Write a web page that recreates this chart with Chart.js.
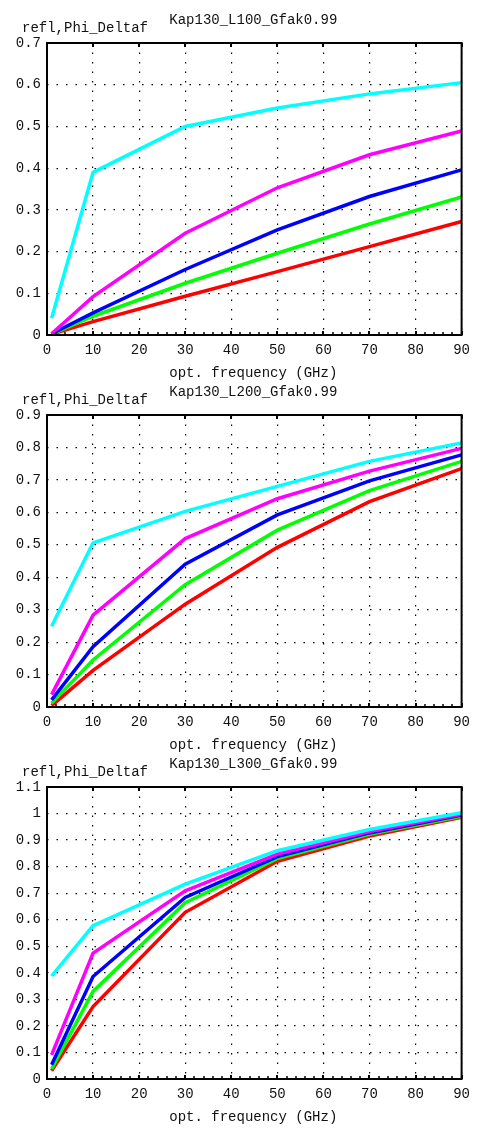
<!DOCTYPE html>
<html><head><meta charset="utf-8">
<script src="https://cdn.jsdelivr.net/npm/chart.js@4"></script>
<style>
html,body{margin:0;padding:0;background:#fff;width:477px;height:1129px;overflow:hidden;}
.p{position:absolute;left:0;}
canvas{display:block;}
</style></head><body>
<div class="p" style="top:0px"><canvas id="c1" width="477" height="380"></canvas></div>
<div class="p" style="top:372px"><canvas id="c2" width="477" height="380"></canvas></div>
<div class="p" style="top:744px"><canvas id="c3" width="477" height="385"></canvas></div>
<script>
// ---- data ----
const freq = [1, 10, 30, 50, 70, 90];
const xTicks = [0, 10, 20, 30, 40, 50, 60, 70, 80, 90];
const xMinorTicks = [2,4,6,8,12,14,16,18,22,24,26,28,32,34,36,38,42,44,46,48,52,54,56,58,62,64,66,68,72,74,76,78,82,84,86,88];
const yTicks1 = [0, 0.1, 0.2, 0.3, 0.4, 0.5, 0.6, 0.7];
const yTicks2 = [0, 0.1, 0.2, 0.3, 0.4, 0.5, 0.6, 0.7, 0.8, 0.9];
const yTicks3 = [0, 0.1, 0.2, 0.3, 0.4, 0.5, 0.6, 0.7, 0.8, 0.9, 1.0, 1.1];
const titles = ['Kap130_L100_Gfak0.99', 'Kap130_L200_Gfak0.99', 'Kap130_L300_Gfak0.99'];
const yLabel = 'refl,Phi_Deltaf';
const xLabel = 'opt. frequency (GHz)';

const cyan1    = [0.04, 0.39, 0.50, 0.544, 0.578, 0.605];
const magenta1 = [0.003, 0.092, 0.244, 0.353, 0.432, 0.489];
const blue1    = [0.003, 0.053, 0.157, 0.252, 0.332, 0.396];
const green1   = [0.002, 0.045, 0.124, 0.196, 0.266, 0.331];
const red1     = [0.002, 0.032, 0.093, 0.152, 0.212, 0.272];

const cyan2    = [0.249, 0.506, 0.603, 0.68, 0.757, 0.814];
const magenta2 = [0.038, 0.283, 0.519, 0.642, 0.727, 0.797];
const blue2    = [0.022, 0.186, 0.44, 0.592, 0.697, 0.777];
const green2   = [0.012, 0.145, 0.377, 0.545, 0.667, 0.757];
const red2     = [0.004, 0.113, 0.317, 0.492, 0.633, 0.735];

const cyan3    = [0.388, 0.578, 0.734, 0.86, 0.94, 1.003];
const magenta3 = [0.091, 0.474, 0.709, 0.847, 0.932, 0.997];
const blue3    = [0.054, 0.386, 0.684, 0.838, 0.927, 0.994];
const green3   = [0.038, 0.33, 0.664, 0.83, 0.922, 0.99];
const red3     = [0.031, 0.273, 0.628, 0.82, 0.915, 0.986];

const colors = {cyan:'#00ffff', magenta:'#ff00ff', blue:'#0000ff', green:'#00ff00', red:'#ff0000'};
const FONT = '"Liberation Mono", "DejaVu Sans Mono", monospace';

const framePlugin = {
  id: 'frame',
  afterDraw(chart, args, opts) {
    const {ctx, chartArea: a, scales: {x}} = chart;
    ctx.save();
    ctx.strokeStyle = '#000';
    ctx.lineWidth = 2;
    ctx.strokeRect(a.left, a.top, a.right - a.left, a.bottom - a.top);
    ctx.beginPath();
    xTicks.forEach(v => {
      const px = Math.round(x.getPixelForValue(v));
      ctx.moveTo(px, a.top); ctx.lineTo(px, a.top + 4);
      ctx.moveTo(px, a.bottom); ctx.lineTo(px, a.bottom - 4);
    });
    ctx.stroke();
    ctx.lineWidth = 1.5;
    ctx.beginPath();
    xMinorTicks.forEach(v => {
      const px = Math.round(x.getPixelForValue(v));
      ctx.moveTo(px, a.bottom); ctx.lineTo(px, a.bottom - 3);
    });
    ctx.stroke();
    ctx.fillStyle = '#111';
    ctx.font = '14px ' + FONT;
    ctx.textBaseline = 'middle';
    ctx.textAlign = 'center';
    ctx.fillText(opts.title, (a.left + a.right) / 2 - 1, 20.5);
    ctx.textAlign = 'left';
    ctx.fillText(yLabel, 22, 28.5);
    ctx.textAlign = 'center';
    ctx.fillText(xLabel, (a.left + a.right) / 2 - 1, a.bottom + 38.5);
    ctx.restore();
  }
};

function makeChart(id, title, yTicks, series, H) {
  const ds = [
    ['cyan', series[0]], ['magenta', series[1]], ['blue', series[2]], ['green', series[3]], ['red', series[4]]
  ].map(([c, vals]) => ({
    label: c,
    data: freq.map((f, i) => ({x: f, y: vals[i]})),
    borderColor: colors[c],
    backgroundColor: colors[c],
    borderWidth: 3.5,
    pointRadius: 0,
    tension: 0,
    fill: false,
    borderCapStyle: 'butt',
    borderJoinStyle: 'miter'
  }));
  return new Chart(document.getElementById(id), {
    type: 'line',
    data: {datasets: ds},
    plugins: [framePlugin],
    options: {
      responsive: false,
      animation: false,
      devicePixelRatio: 1,
      events: [],
      layout: {padding: {top: 43, right: 12, left: 0, bottom: 0}},
      plugins: {legend: {display: false}, tooltip: {enabled: false}, title: {display: false}, frame: {title}},
      scales: {
        x: {
          type: 'linear', min: 0, max: 90,
          afterBuildTicks: s => { s.ticks = xTicks.map(v => ({value: v})); },
          afterFit: s => { s.height = H - 335; },
          grid: {color: '#000', lineWidth: 1.2, drawTicks: false},
          border: {display: false, dash: [1.5, 8]},
          ticks: {color: '#111', font: {family: FONT, size: 14}, padding: 7, maxRotation: 0, autoSkip: false,
                  callback: v => String(v)}
        },
        y: {
          type: 'linear', min: 0, max: yTicks[yTicks.length - 1],
          afterBuildTicks: s => { s.ticks = yTicks.map(v => ({value: v})); },
          afterFit: s => { s.width = 47; },
          grid: {color: '#000', lineWidth: 1.2, drawTicks: false},
          border: {display: false, dash: [1.5, 8]},
          ticks: {color: '#111', font: {family: FONT, size: 14}, padding: 6, autoSkip: false,
                  callback: v => String(Math.round(v * 10) / 10)}
        }
      }
    }
  });
}

makeChart('c1', titles[0], yTicks1, [cyan1, magenta1, blue1, green1, red1], 380);
makeChart('c2', titles[1], yTicks2, [cyan2, magenta2, blue2, green2, red2], 380);
makeChart('c3', titles[2], yTicks3, [cyan3, magenta3, blue3, green3, red3], 385);
</script>
</body></html>
